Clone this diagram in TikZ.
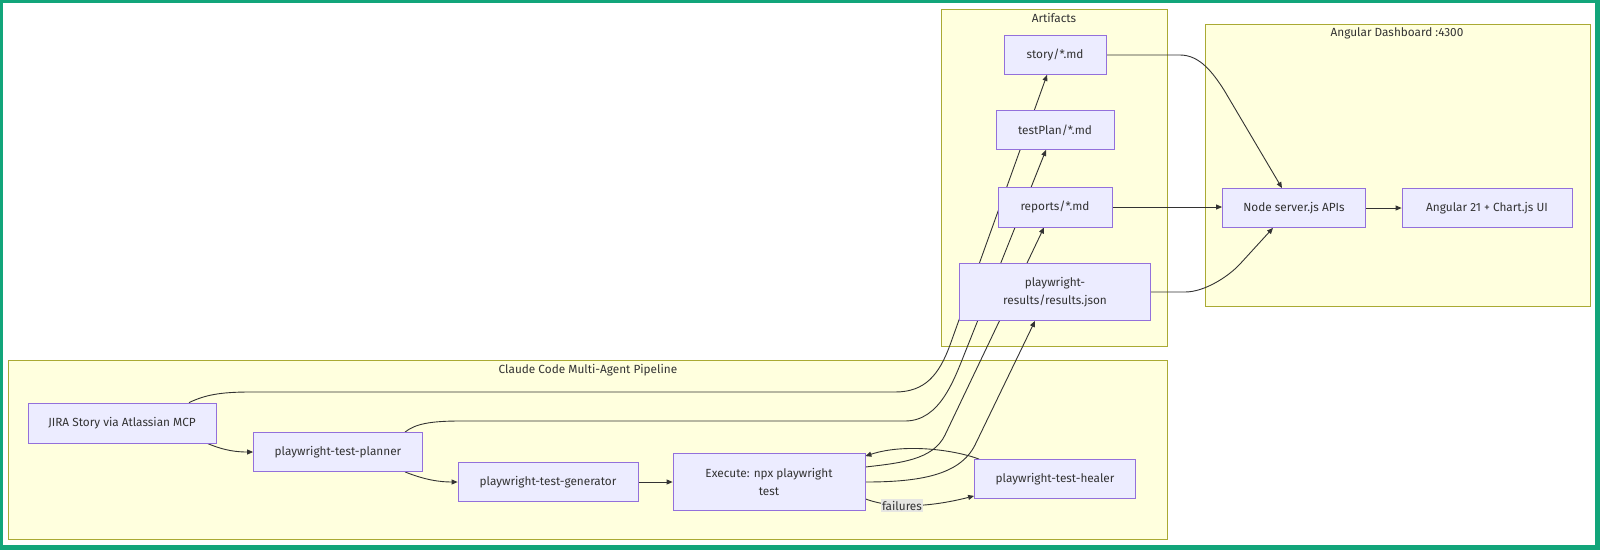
\documentclass[tikz,border=0pt]{standalone}
\usepackage{fontspec}
\setmainfont{Fira Sans}
\usepackage{tikz}
\usetikzlibrary{arrows.meta}
\usepackage{xcolor}

\definecolor{nodefill}{HTML}{ECECFF}
\definecolor{nodeline}{HTML}{9370DB}
\definecolor{groupfill}{HTML}{FFFFDE}
\definecolor{groupline}{HTML}{AAAA33}
\definecolor{edgecol}{HTML}{333333}
\definecolor{textcol}{HTML}{333333}
\definecolor{lblfill}{HTML}{E6E6E2}
\definecolor{framecol}{HTML}{12A57A}

\pgfdeclarelayer{groups}
\pgfdeclarelayer{edges}
\pgfsetlayers{groups,edges,main}

\begin{document}
\begin{tikzpicture}[x=1pt, y=-1pt,
        font=\fontsize{11.8}{17.5}\selectfont,
        box/.style={draw=nodeline, fill=nodefill, line width=0.8pt, inner sep=0pt, text=textcol, align=center, minimum height=39pt},
        group/.style={draw=groupline, fill=groupfill, line width=0.8pt},
        grouptitle/.style={text=textcol, inner sep=0pt},
        flow/.style={draw=edgecol, line width=0.9pt, -{Triangle[length=6pt,width=5pt]}},
        edgelbl/.style={fill=lblfill, text=textcol, inner sep=1.5pt}]

        % Frame and groups
        \useasboundingbox (0,0) rectangle (1600,550);
        \begin{pgfonlayer}{groups}
        \fill[framecol] (0,0) rectangle (1600,550);
        \fill[white] (3,3) rectangle (1595,545);
        \draw[group] (941,9) rectangle (1167,346);
        \node[grouptitle] (artTitle) at (1054,18) {Artifacts};
        \draw[group] (1205,24) rectangle (1590,306);
        \node[grouptitle] (dashTitle) at (1397,33) {Angular Dashboard :4300};
        \draw[group] (8,360) rectangle (1167,539);
        \node[grouptitle] (pipeTitle) at (588,370) {Claude Code Multi-Agent Pipeline};
        \end{pgfonlayer}

        % Artifacts
        \node[box, minimum width=102pt] (story) at (1055,55) {story/*.md};
        \node[box, minimum width=118pt] (testplan) at (1055,130) {testPlan/*.md};
        \node[box, minimum width=114pt, minimum height=40pt] (reports) at (1055,207) {reports/*.md};
        \node[box, minimum width=191pt, minimum height=57pt] (results) at (1055,292) {playwright-\\results/results.json};

        % Dashboard
        \node[box, minimum width=143pt] (server) at (1294,208) {Node server.js APIs};
        \node[box, minimum width=170pt] (angular) at (1487,208) {Angular 21 + Chart.js UI};

        % Pipeline
        \node[box, minimum width=188pt, minimum height=40pt] (jira) at (122,423) {JIRA Story via Atlassian MCP};
        \node[box, minimum width=169pt] (planner) at (338,452) {playwright-test-planner};
        \node[box, minimum width=180pt] (generator) at (548,482) {playwright-test-generator};
        \node[box, minimum width=192pt, minimum height=57pt] (exec) at (769,482) {Execute: npx playwright\\test};
        \node[box, minimum width=161pt] (healer) at (1055,479) {playwright-test-healer};

        \begin{pgfonlayer}{edges}
        % Pipeline steps
        \draw[flow] ([xshift=-9pt]jira.south east) .. controls (225,451) and (238,452) .. (planner.west);
        \draw[flow] ([xshift=67pt]planner.south) .. controls (425,480) and (440,482) .. (generator.west);
        \draw[flow] (generator.east) -- (exec.west);
        \draw[flow] ([yshift=12pt]exec.south east) .. controls (895,510) and (935,506) .. ([yshift=3pt]healer.south west)
                node[pos=0.37, edgelbl] (failLbl) {failures};
        \draw[flow] ([xshift=5pt]healer.north west) .. controls (955,450) and (905,443) .. ([yshift=-3pt]exec.north east);

        % Writes to artifacts
        \draw[flow] ([xshift=67pt]jira.north) .. controls (205,395) and (220,392) .. (250,392) -- (895,392)
                .. controls (925,392) and (939,375) .. (950,345) -- ([xshift=-8pt]story.south);
        \draw[flow] ([xshift=67pt]planner.north) .. controls (415,424) and (430,421) .. (460,421) -- (905,421)
                .. controls (940,421) and (954,380) .. (966,350) -- ([xshift=-9pt]testplan.south);
        \draw[flow] ([yshift=15pt]exec.east) .. controls (900,463) and (933,460) .. (945,435) -- ([xshift=-11pt]reports.south);
        \draw[flow] (exec.east) .. controls (920,482) and (960,475) .. (975,445) -- ([xshift=-20pt]results.south);

        % Dashboard feeds
        \draw[flow] (story.east) -- (1180,55) .. controls (1200,55) and (1213,73) .. (1224,90) -- ([xshift=-12pt]server.north);
        \draw[flow] (reports.east) -- (reports.east -| server.west);
        \draw[flow] (results.east) -- (1185,292) .. controls (1205,292) and (1229,276) .. (1240,264) -- ([xshift=-21pt]server.south);
        \draw[flow] (server.east) -- (angular.west);
        \end{pgfonlayer}
    \end{tikzpicture}
\end{document}
